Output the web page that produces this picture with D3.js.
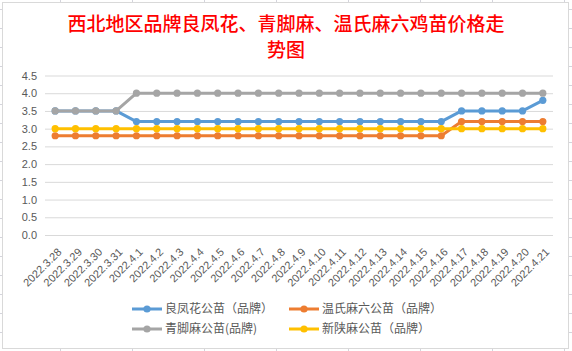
<!DOCTYPE html>
<html><head><meta charset="utf-8">
<script src="https://cdn.jsdelivr.net/npm/d3@7"></script>
<style>body{margin:0;background:#fff;} svg{display:block}</style>
</head><body><svg id="c" width="572" height="351"></svg>
<script>
const title = ["西北地区品牌良凤花、青脚麻、温氏麻六鸡苗价格走", "势图"];
const dates = ["2022.3.28","2022.3.29","2022.3.30","2022.3.31","2022.4.1","2022.4.2","2022.4.3","2022.4.4","2022.4.5","2022.4.6","2022.4.7","2022.4.8","2022.4.9","2022.4.10","2022.4.11","2022.4.12","2022.4.13","2022.4.14","2022.4.15","2022.4.16","2022.4.17","2022.4.18","2022.4.19","2022.4.20","2022.4.21"];
const liangfenghua = [3.5,3.5,3.5,3.5,3.2,3.2,3.2,3.2,3.2,3.2,3.2,3.2,3.2,3.2,3.2,3.2,3.2,3.2,3.2,3.2,3.5,3.5,3.5,3.5,3.8];
const wenshi = [2.8,2.8,2.8,2.8,2.8,2.8,2.8,2.8,2.8,2.8,2.8,2.8,2.8,2.8,2.8,2.8,2.8,2.8,2.8,2.8,3.2,3.2,3.2,3.2,3.2];
const qingjiao = [3.5,3.5,3.5,3.5,4.0,4.0,4.0,4.0,4.0,4.0,4.0,4.0,4.0,4.0,4.0,4.0,4.0,4.0,4.0,4.0,4.0,4.0,4.0,4.0,4.0];
const xinshan = [3.0,3.0,3.0,3.0,3.0,3.0,3.0,3.0,3.0,3.0,3.0,3.0,3.0,3.0,3.0,3.0,3.0,3.0,3.0,3.0,3.0,3.0,3.0,3.0,3.0];
const seriesNames = ["良凤花公苗（品牌）","温氏麻六公苗（品牌）","青脚麻公苗(品牌)","新陕麻公苗（品牌）"];
const yTicks = [0,0.5,1.0,1.5,2.0,2.5,3.0,3.5,4.0,4.5];

const colors = ["#5B9BD5","#ED7D31","#A5A5A5","#FFC000"];
const series = [liangfenghua, wenshi, qingjiao, xinshan].map((v,i)=>({name:seriesNames[i], values:v, color:colors[i]}));

const svg = d3.select("#c");
const W = 572, H = 351;

// spreadsheet grid behind the chart
const sheet = svg.append("g");
sheet.selectAll("line.v").data(d3.range(60, W, 72)).join("line")
  .attr("x1", d=>d+0.5).attr("x2", d=>d+0.5).attr("y1",0).attr("y2",H)
  .attr("stroke","#d4d4dc");
sheet.selectAll("line.h").data(d3.range(9, H, 19)).join("line")
  .attr("y1", d=>d+0.5).attr("y2", d=>d+0.5).attr("x1",0).attr("x2",W)
  .attr("stroke","#d4d4dc");

// chart area
svg.append("rect").attr("x",2.5).attr("y",2.5).attr("width",566).attr("height",346)
  .attr("fill","#fff").attr("stroke","#d9d9d9");

// title
svg.append("g").selectAll("text").data(title).join("text")
  .attr("x",286).attr("y",(d,i)=>31+i*25.5)
  .attr("text-anchor","middle")
  .attr("fill","#ff0000")
  .attr("font-family","'Noto Sans CJK SC'")
  .attr("font-weight","500")
  .attr("font-size","19px")
  .text(d=>d);

const x = d3.scalePoint().domain(dates).range([45,553]).padding(0.5);
const y = d3.scaleLinear().domain([0,4.5]).range([235,75.5]);

// y axis + gridlines
const ya = svg.append("g").attr("transform","translate(45,0)")
  .call(d3.axisLeft(y).tickValues(yTicks).tickFormat(d3.format(".1f")).tickSize(-508).tickPadding(8));
ya.select(".domain").remove();
ya.selectAll(".tick line").attr("stroke","#d9d9d9");
ya.selectAll(".tick text").attr("fill","#595959").attr("font-family","'Liberation Sans', Arial").attr("font-size","11px");

// x axis labels
const xa = svg.append("g").attr("transform","translate(0,235)")
  .call(d3.axisBottom(x).tickSize(0));
xa.select(".domain").remove();
xa.selectAll(".tick text")
  .attr("fill","#595959").attr("font-family","'Liberation Sans', Arial").attr("font-size","11px")
  .attr("text-anchor","end").attr("x",0).attr("y",0).attr("dy","0.35em")
  .attr("transform","translate(4,15) rotate(-45)");

// lines
const line = d3.line().x((d,i)=>x(dates[i])).y(d=>y(d));
const sg = svg.append("g").selectAll("g").data(series).join("g");
sg.append("path").attr("d",d=>line(d.values)).attr("fill","none")
  .attr("stroke",d=>d.color).attr("stroke-width",3).attr("stroke-linejoin","round");
sg.selectAll("circle").data(d=>d.values.map((v,i)=>({v,i,c:d.color}))).join("circle")
  .attr("cx",d=>x(dates[d.i])).attr("cy",d=>y(d.v)).attr("r",3.6).attr("fill",d=>d.c);

// legend
const legPos = [[132,309],[289,309],[132,329],[289,329]];
const lg = svg.append("g").selectAll("g").data(series).join("g")
  .attr("transform",(d,i)=>`translate(${legPos[i][0]},${legPos[i][1]})`);
lg.append("line").attr("x1",0).attr("x2",30).attr("stroke",d=>d.color).attr("stroke-width",3);
lg.append("circle").attr("cx",15).attr("r",3.6).attr("fill",d=>d.color);
lg.append("text").attr("x",33).attr("dy","0.36em").attr("fill","#595959")
  .attr("font-family","'Noto Sans CJK SC'").attr("font-size","12px").text(d=>d.name);
</script></body></html>
